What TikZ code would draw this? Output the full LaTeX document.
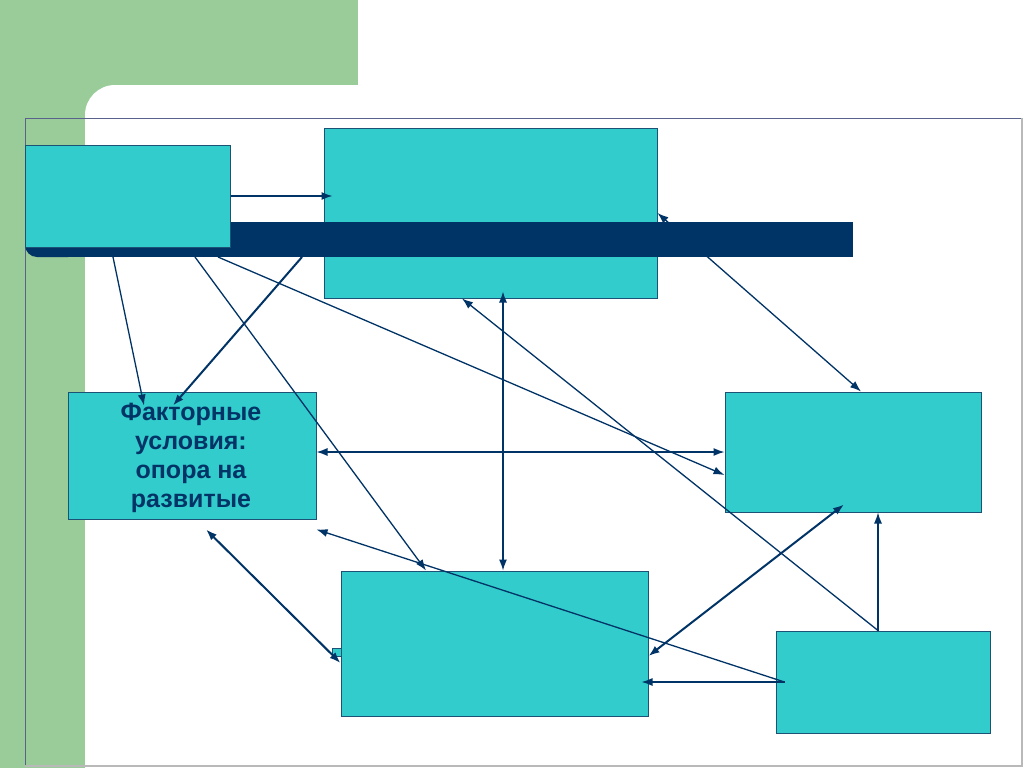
\documentclass[tikz,border=0pt]{standalone}
\usepackage{fontspec}
\setsansfont{Liberation Sans}
\usetikzlibrary{arrows.meta}

\definecolor{leaf}{RGB}{153,204,153}
\definecolor{navy}{RGB}{0,51,102}
\definecolor{boxfill}{RGB}{51,204,204}
\definecolor{boxline}{RGB}{28,82,118}
\definecolor{slate}{RGB}{88,98,138}

\tikzset{
  box/.style={rectangle,draw=boxline,fill=boxfill,line width=1pt,inner sep=0pt},
  boxtext/.style={text=navy,align=center,inner sep=0pt,
                  font=\sffamily\bfseries\fontsize{25}{29}\selectfont},
  link/.style={navy,line width=1.3pt},
  boldlink/.style={navy,line width=2pt},
  >={Latex[length=11pt,width=8pt]}
}

\begin{document}
\begin{tikzpicture}[x=1pt,y=-1pt]
      \useasboundingbox (0,0) rectangle (1024,768);
      \begin{scope}
        \clip (0,0) rectangle (1024,768);
        \fill[leaf] (0,0) rectangle (358,85);
        \fill[leaf] (0,0) rectangle (85,768);
        \fill[leaf] (85,85) rectangle (125,125);
        \fill[white,rounded corners=30pt] (85,85) rectangle (1100,900);
        \draw[slate,line width=0.8pt] (25,766) -- (25,118) -- (1022,118);
        \draw[gray!55,line width=1.2pt] (1022,118) -- (1022,766) -- (25,766);
      \end{scope}

      \begin{scope}
        \node[box,minimum width=333pt,minimum height=170pt] (top) at (490.5,213) {};
        \node[box,minimum width=248pt,minimum height=127pt] (fac) at (192,455.5) {};
        \node[boxtext] (factxt) at ([xshift=-1pt,yshift=-2.5pt]fac.center)
              {Факторные\\условия:\\опора на\\развитые};
        \node[box,minimum width=256pt,minimum height=120pt] (rt) at (853,452) {};
        \node[box,minimum width=9pt,minimum height=8pt] (tab) at (336.5,652) {};
        \node[box,minimum width=307pt,minimum height=145pt] (bot) at (494.5,643.5) {};
        \node[box,minimum width=214pt,minimum height=102pt] (se) at (883,682) {};

        \coordinate (b1) at (113,257);
        \coordinate (b2) at (195,257);
        \coordinate (b3) at (302,257);
        \coordinate (b4) at (218,257);
        \coordinate (fp) at ([xshift=9pt]se.west);

        \draw[link,->] (b1) -- ([xshift=-48pt,yshift=-14pt]fac.north);
        \draw[boldlink,->] (b3) -- ([xshift=-19pt,yshift=-14pt]fac.north);
        \draw[link,->] (b2) -- ([xshift=-68.5pt]bot.north);
        \draw[link,->] (b4) -- ([yshift=-23pt]rt.west);

        \draw[link,<->] ([xshift=12.5pt,yshift=7pt]top.south) -- ([xshift=8.5pt]bot.north);
        \draw[link,<->] (top.east) -- ([xshift=8pt]rt.north);
        \draw[link,<->] (fac.east |- rt.west) -- (rt.west);
        \draw[boldlink,<->] ([xshift=14pt,yshift=-10pt]fac.south) -- ([yshift=-19.5pt]bot.west);
        \draw[boldlink,<->] ([yshift=-12.5pt]bot.east) -- ([xshift=-9pt,yshift=8pt]rt.south);

        \draw[link,->] ([xshift=-5pt]se.north) -- ([xshift=-28.5pt]top.south);
        \draw[link,->] ([xshift=-5pt]se.north) -- ([xshift=25pt]rt.south);
        \draw[link,->] (fp) -- ([yshift=-10pt]fac.south east);
        \draw[link,->] (fp) -- ([xshift=-7pt]bot.east |- fp);

        \fill[navy] (40,222) rectangle (853,257);
        \fill[navy,rounded corners=12pt] (25,222) rectangle (80,257);

        \node[box,minimum width=205pt,minimum height=102pt] (nw) at (127.5,196) {};
        \draw[link,->] (nw.east) -- ([xshift=9pt]nw.east -| top.west);
      \end{scope}
\end{tikzpicture}
\end{document}
